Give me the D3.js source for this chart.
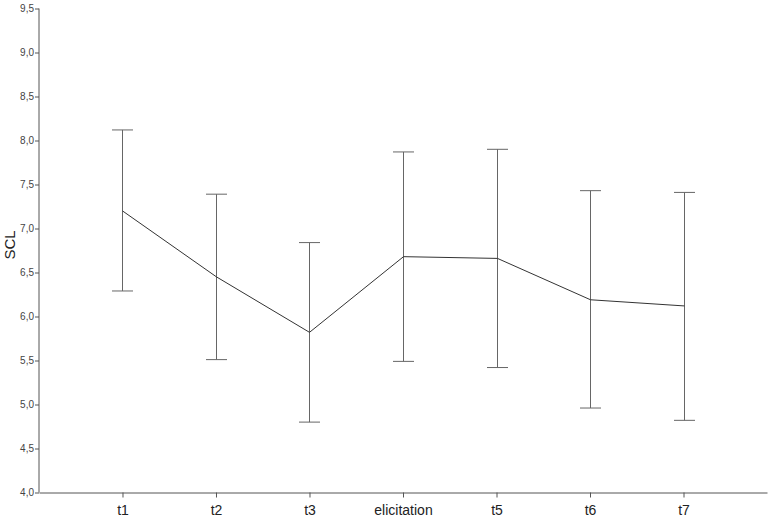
<!DOCTYPE html>
<html><head><meta charset="utf-8">
<script src="https://cdn.jsdelivr.net/npm/d3@7"></script>
<style>body{margin:0;background:#fff}</style>
</head><body>
<svg id="c" width="772" height="519"></svg>
<script>
const categories = ["t1","t2","t3","elicitation","t5","t6","t7"];
const means = [7.20, 6.45, 5.82, 6.68, 6.66, 6.19, 6.12];
const upper = [8.12, 7.39, 6.84, 7.87, 7.90, 7.43, 7.41];
const lower = [6.29, 5.51, 4.80, 5.49, 5.42, 4.96, 4.82];
const yTicks = [4.0,4.5,5.0,5.5,6.0,6.5,7.0,7.5,8.0,8.5,9.0,9.5];

const svg = d3.select("#c");
const x = d3.scalePoint().domain(categories).range([39, 767]).padding(0.893);
const y = d3.scaleLinear().domain([4, 9.5]).range([492.5, 8.5]);
const fmt = d => d3.format(".1f")(d).replace(".", ",");

const yAxis = svg.append("g").attr("transform","translate(39,0)")
  .call(d3.axisLeft(y).tickValues(yTicks).tickFormat(fmt).tickSize(4).tickSizeOuter(0));
yAxis.select(".domain").attr("stroke","#555").attr("d","M0,8.5V492.5");
yAxis.selectAll(".tick line").attr("stroke","#555");
yAxis.selectAll(".tick text").attr("font-family","Arial, Liberation Sans, sans-serif").attr("font-size",10).attr("fill","#444").attr("x",-5);

const xAxis = svg.append("g").attr("transform","translate(0,492.5)")
  .call(d3.axisBottom(x).tickSize(5).tickSizeOuter(0));
xAxis.select(".domain").attr("stroke","#555");
xAxis.selectAll(".tick line").attr("stroke","#555");
xAxis.selectAll(".tick text").attr("font-family","Arial, Liberation Sans, sans-serif").attr("font-size",14).attr("fill","#222").attr("dy","1.05em");

svg.append("text").attr("transform","translate(15,245) rotate(-90)")
  .attr("text-anchor","middle").attr("font-family","Arial, Liberation Sans, sans-serif")
  .attr("font-size",15).attr("fill","#222").text("SCL");

const eb = svg.append("g").attr("stroke","#666").attr("stroke-width",1).attr("fill","none");
categories.forEach((c,i) => {
  const cx = Math.round(x(c)) + 0.5;
  eb.append("line").attr("x1",cx).attr("x2",cx).attr("y1",y(upper[i])).attr("y2",y(lower[i]));
  eb.append("line").attr("x1",cx-10.5).attr("x2",cx+10.5).attr("y1",y(upper[i])).attr("y2",y(upper[i]));
  eb.append("line").attr("x1",cx-10.5).attr("x2",cx+10.5).attr("y1",y(lower[i])).attr("y2",y(lower[i]));
});

const line = d3.line().x((d,i) => Math.round(x(categories[i])) + 0.5).y(d => y(d));
svg.append("path").datum(means).attr("d", line).attr("fill","none").attr("stroke","#333").attr("stroke-width",1);
</script>
</body></html>
